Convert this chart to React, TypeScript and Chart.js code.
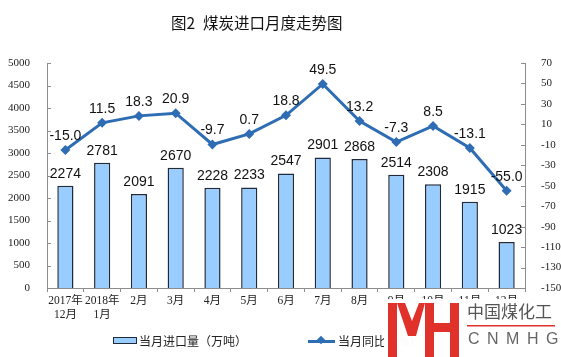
import React, { useEffect, useRef } from "react";
import { Chart, registerables } from "chart.js";

Chart.register(...registerables);

const categories: string[][] = [
  ["2017年", "12月"], ["2018年", "1月"], ["2月"], ["3月"], ["4月"], ["5月"], ["6月"],
  ["7月"], ["8月"], ["9月"], ["10月"], ["11月"], ["12月"],
];
const importVolume = [2274, 2781, 2091, 2670, 2228, 2233, 2547, 2901, 2868, 2514, 2308, 1915, 1023];
const yoyGrowth = [-15.0, 11.5, 18.3, 20.9, -9.7, 0.7, 18.8, 49.5, 13.2, -7.3, 8.5, -13.1, -55.0];
const barLabel = "当月进口量（万吨）";
const lineLabel = "当月同比（%）";
const titlePrefix = "图2";
const titleMain = "煤炭进口月度走势图";

const SERIF = "'Liberation Serif', 'Times New Roman', 'Noto Sans CJK SC', serif";
const CJK = "'Noto Sans CJK SC', 'Liberation Sans', sans-serif";
const AXIS = "#8c8c8c";
const LINE = "#2e6db4";
const BAR = "#99ccff";
const BAR_BORDER = "#1f2a3a";

const labelsPlugin = {
  id: "valueLabels",
  afterDatasetsDraw(chart: any) {
    const ctx = chart.ctx;
    ctx.save();
    ctx.font = "14px 'Liberation Sans', Arial, sans-serif";
    ctx.fillStyle = "#111";
    ctx.textAlign = "center";
    ctx.textBaseline = "bottom";
    chart.data.datasets.forEach((ds: any, i: number) => {
      const meta = chart.getDatasetMeta(i);
      meta.data.forEach((el: any, j: number) => {
        const v = ds.data[j];
        const txt = ds.type === "line" ? v.toFixed(1) : String(v);
        ctx.fillText(txt, el.x, el.y - (ds.type === "line" ? 7 : 5));
      });
    });
    ctx.restore();
  },
};

const innerTicksPlugin = {
  id: "innerTicks",
  afterDraw(chart: any) {
    const ctx = chart.ctx;
    ctx.save();
    ctx.strokeStyle = AXIS;
    ctx.lineWidth = 1;
    const y = chart.scales.y;
    const y1 = chart.scales.y1;
    y.ticks.forEach((t: any) => {
      const py = Math.round(y.getPixelForValue(t.value)) + 0.5;
      ctx.beginPath();
      ctx.moveTo(y.right, py);
      ctx.lineTo(y.right + 4, py);
      ctx.stroke();
    });
    y1.ticks.forEach((t: any) => {
      const py = Math.round(y1.getPixelForValue(t.value)) + 0.5;
      ctx.beginPath();
      ctx.moveTo(y1.left, py);
      ctx.lineTo(y1.left - 4, py);
      ctx.stroke();
    });
    ctx.restore();
  },
};

export default function App() {
  const ref = useRef<HTMLCanvasElement>(null);
  useEffect(() => {
    if (!ref.current) return;
    const chart = new Chart(ref.current, {
      type: "bar",
      data: {
        labels: categories,
        datasets: [
          {
            type: "line",
            label: lineLabel,
            data: yoyGrowth,
            yAxisID: "y1",
            borderColor: LINE,
            backgroundColor: LINE,
            borderWidth: 3,
            pointStyle: "rectRot",
            pointRadius: 5,
            pointBorderWidth: 0,
            pointBackgroundColor: LINE,
            tension: 0,
            order: 0,
          } as any,
          {
            type: "bar",
            label: barLabel,
            data: importVolume,
            yAxisID: "y",
            backgroundColor: BAR,
            borderColor: BAR_BORDER,
            borderWidth: 1.5,
            categoryPercentage: 1,
            barPercentage: 0.44,
            order: 1,
          } as any,
        ],
      },
      options: {
        responsive: false,
        animation: false,
        layout: { padding: { top: 63, bottom: 0, left: 0, right: 0 } },
        plugins: { legend: { display: false }, tooltip: { enabled: false }, title: { display: false } },
        scales: {
          x: {
            offset: true,
            grid: { display: true, drawOnChartArea: false, offset: true, tickLength: 4, color: AXIS },
            border: { display: true, color: AXIS },
            ticks: {
              color: "#222",
              font: { family: SERIF, size: 11.5, lineHeight: 1.2 },
              padding: 2,
              maxRotation: 0,
              autoSkip: false,
            },
            afterFit: (s: any) => { s.height = 69; },
          },
          y: {
            position: "left",
            min: 0,
            max: 5000,
            ticks: {
              stepSize: 500,
              color: "#222",
              font: { family: SERIF, size: 11 },
              padding: 9,
              callback: (v: any) => String(v),
            },
            grid: { display: false },
            border: { display: true, color: AXIS },
            afterFit: (s: any) => { s.width = 47; },
          },
          y1: {
            position: "right",
            min: -150,
            max: 70,
            ticks: {
              stepSize: 20,
              color: "#222",
              font: { family: SERIF, size: 11 },
              padding: 8,
              callback: (v: any) => String(v),
            },
            grid: { display: false },
            border: { display: true, color: AXIS },
            afterFit: (s: any) => { s.width = 36; },
          },
        },
      },
      plugins: [labelsPlugin, innerTicksPlugin],
    });
    return () => chart.destroy();
  }, []);

  return (
    <div style={{ position: "fixed", left: 0, top: 0, width: 561, height: 357, background: "#fff", overflow: "hidden" }}>
      <canvas ref={ref} width={561} height={357} style={{ position: "absolute", left: 0, top: 0, width: 561, height: 357 }} />
      <div style={{ position: "absolute", left: 171, top: 12, fontFamily: CJK, fontSize: 15.5, color: "#111", whiteSpace: "nowrap", lineHeight: "20px" }}>
        {titlePrefix}
        <span style={{ display: "inline-block", width: 8 }} />
        {titleMain}
      </div>
      {/* legend */}
      <div style={{ position: "absolute", left: 113, top: 337, width: 22, height: 5, background: BAR, border: `1.5px solid ${BAR_BORDER}` }} />
      <div style={{ position: "absolute", left: 139, top: 332, fontFamily: CJK, fontSize: 12, color: "#222", whiteSpace: "nowrap", lineHeight: "18px" }}>
        {barLabel}
      </div>
      <div style={{ position: "absolute", left: 308, top: 340, width: 27, height: 2.5, background: LINE }} />
      <div style={{ position: "absolute", left: 318, top: 337, width: 6, height: 6, background: LINE, transform: "rotate(45deg)" }} />
      <div style={{ position: "absolute", left: 338, top: 332, fontFamily: CJK, fontSize: 12, color: "#222", whiteSpace: "nowrap", lineHeight: "18px" }}>
        {lineLabel}
      </div>
      {/* watermark */}
      <div style={{ position: "absolute", left: 384, top: 299, width: 177, height: 58, background: "rgba(255,255,255,0.97)" }} />
      <svg style={{ position: "absolute", left: 0, top: 0 }} width={561} height={357}>
        <rect x={388} y={303} width={9} height={54} fill="#e0312b" />
        <polygon points="397,303 405,303 412,321 419,303 425,303 416,336 408,336" fill="#e0312b" />
        <rect x={425} y={303} width={9} height={54} fill="#e0312b" />
        <rect x={450} y={303} width={9} height={54} fill="#e0312b" />
        <rect x={434} y={323} width={16} height={9} fill="#e0312b" />
        <rect x={467} y={325} width={88} height={1.5} fill="#e0312b" />
      </svg>
      <div style={{ position: "absolute", left: 467, top: 300, fontFamily: CJK, fontSize: 17, color: "#555", whiteSpace: "nowrap", lineHeight: "22px" }}>
        中国煤化工
      </div>
      <div style={{ position: "absolute", left: 468, top: 329, fontFamily: "'Liberation Sans', sans-serif", fontSize: 16, color: "#666", whiteSpace: "nowrap", letterSpacing: 7.5, lineHeight: "20px" }}>
        CNMHG
      </div>
    </div>
  );
}
